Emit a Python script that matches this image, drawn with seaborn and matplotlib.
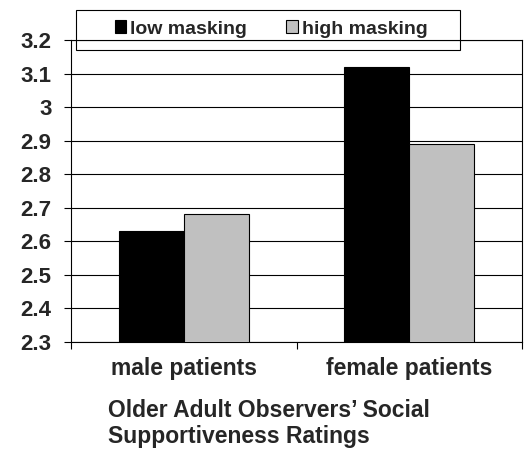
import matplotlib
matplotlib.use("Agg")
import matplotlib.pyplot as plt
from matplotlib.patches import Rectangle
import pandas as pd
import seaborn as sns

categories = ["male patients", "female patients"]
conditions = ["low masking", "high masking"]
low_masking = [2.63, 3.12]
high_masking = [2.68, 2.89]
y_ticks = [2.3, 2.4, 2.5, 2.6, 2.7, 2.8, 2.9, 3.0, 3.1, 3.2]
y_tick_labels = ["2.3", "2.4", "2.5", "2.6", "2.7", "2.8", "2.9", "3", "3.1", "3.2"]

df = pd.DataFrame({
    "group": categories * 2,
    "condition": [conditions[0]] * 2 + [conditions[1]] * 2,
    "rating": low_masking + high_masking,
})

sns.set_style("white")
plt.rcParams["font.family"] = ["Liberation Sans", "DejaVu Sans"]
plt.rcParams["font.weight"] = "bold"

W, H = 529, 463
fig = plt.figure(figsize=(W / 100, H / 100), dpi=100)
ax = fig.add_axes([71 / W, 1 - 342 / H, (522 - 71) / W, (342 - 40) / H])

sns.barplot(data=df, x="group", y="rating", hue="condition", order=categories,
            hue_order=conditions, palette=["black", "#C0C0C0"], width=0.576,
            edgecolor="black", linewidth=0.8, ax=ax, zorder=3)

ax.set_xlim(-0.5, 1.5)
ax.set_ylim(2.3, 3.2)
ax.set_yticks(y_ticks)
ax.set_yticklabels(y_tick_labels, fontsize=16, fontweight="bold")
ax.yaxis.grid(True, color="black", linewidth=0.8)
ax.set_axisbelow(True)
ax.tick_params(axis="y", direction="out", length=5, width=0.8, pad=9, left=True, color="black")
ax.set_xticks([0, 1])
ax.set_xticklabels(categories, fontsize=16.5, fontweight="bold")
ax.set_xticks([-0.5, 0.5, 1.5], minor=True)
ax.tick_params(axis="x", which="major", length=0, pad=11)
ax.tick_params(axis="x", which="minor", direction="out", length=5, width=0.8, bottom=True, color="black")
ax.set_xlabel("")
ax.set_ylabel("")
for s in ax.spines.values():
    s.set_visible(True)
    s.set_color("black")
    s.set_linewidth(0.8)

handles, labels = ax.get_legend_handles_labels()
ax.get_legend().remove()
fig.legend(handles, labels, loc="center", bbox_to_anchor=(271 / W, 1 - 29 / H),
           ncol=2, frameon=False, prop={"size": 14, "weight": "bold"},
           handlelength=0.6, handleheight=0.6, handletextpad=0.2, columnspacing=2.0)
fig.patches.append(Rectangle((76 / W, 1 - 50 / H), (460 - 76) / W, 40 / H,
                             transform=fig.transFigure, fill=False,
                             edgecolor="black", linewidth=0.8))

fig.text(108 / W, 1 - 423.5 / H, "Older Adult Observers\u2019 Social\nSupportiveness Ratings",
         ha="left", va="center", fontsize=16.5, fontweight="bold", linespacing=1.18)

fig.savefig("out.png", dpi=100)
